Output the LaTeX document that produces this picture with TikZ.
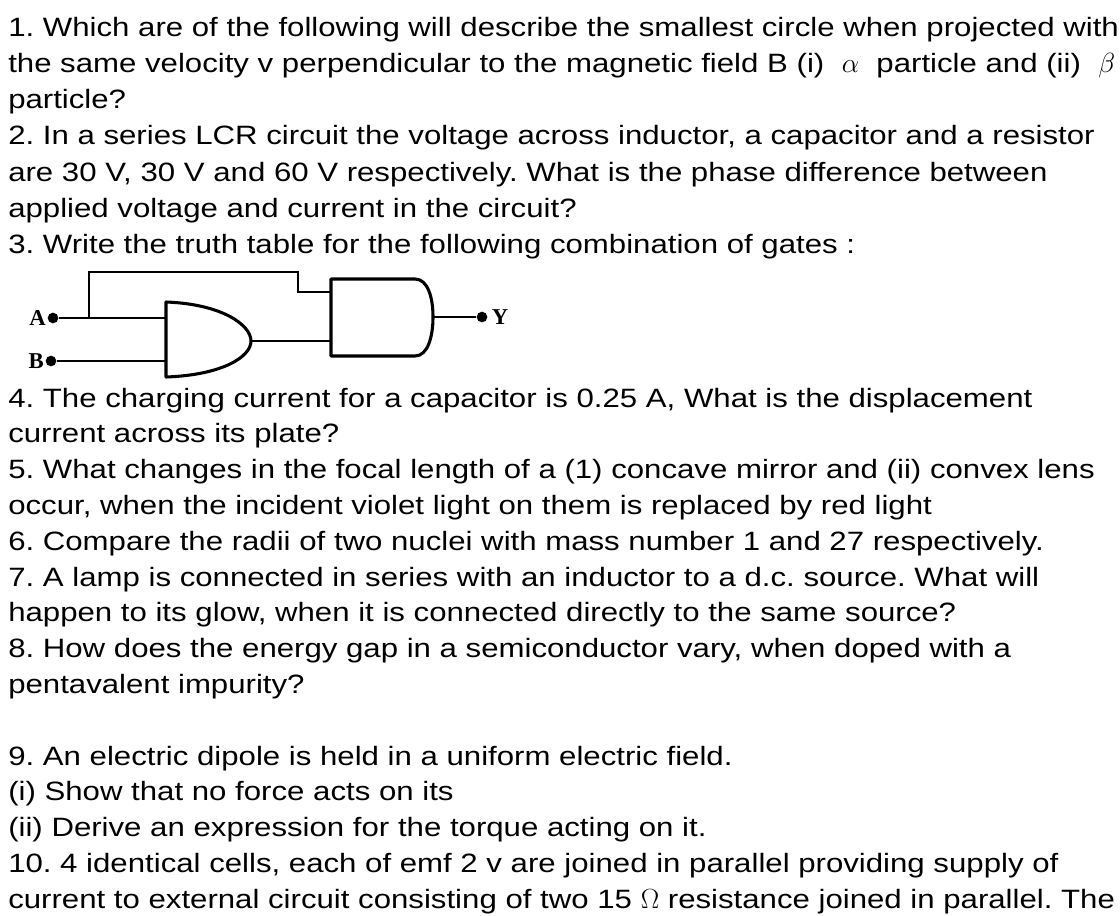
\documentclass[tikz,border=0pt]{standalone}
\usepackage{fontspec}
\setmainfont{Liberation Sans}[FakeStretch=1.175]
\newfontfamily\pinfont{Liberation Serif}
\usetikzlibrary{positioning}
\frenchspacing

\begin{document}
\begin{tikzpicture}[x=0.75pt,y=-0.75pt]
            \tikzset{
	qline/.style={anchor=base west, inner sep=0pt, font=\fontsize{19.9}{24}\selectfont},
	gate/.style={draw, line width=2.3pt, line join=round},
	wire/.style={draw, line width=1.9pt},
	pin/.style={circle, fill, inner sep=0pt, minimum size=8pt},
	pinlabel/.style={font=\pinfont\bfseries\fontsize{17}{17}\selectfont, inner sep=0pt}
}

\useasboundingbox (0,0) rectangle (1120,915);

% questions 1 to 3
\foreach \txt [count=\i from 0] in {
	1. Which are of the following will describe the smallest circle when projected with,
	the same velocity v perpendicular to the magnetic field B (i) ~$\alpha$~ particle and (ii) ~$\beta$,
	particle?,
	{2. In a series LCR circuit the voltage across inductor, a capacitor and a resistor},
	{are 30 V, 30 V and 60 V respectively. What is the phase difference between},
	applied voltage and current in the circuit?,
	3. Write the truth table for the following combination of gates :}
	\node[qline] (top\i) at (8,36+36.3*\i) {\txt};

% gates
\coordinate (and1nw) at (166,302);
\coordinate (and1tip) at (251,341);
\coordinate (and1sw) at (166,377);
\coordinate (and2nw) at (331,279);
\coordinate (and2tip) at (433,317);
\coordinate (and2sw) at (331,356);

\draw[gate] (and1nw) .. controls (222,304) and (251,325) .. (and1tip)
	.. controls (251,357) and (222,375) .. (and1sw) -- cycle;
\draw[gate] (and2nw) -- (415,279) .. controls (428,279) and (433,298) .. (and2tip)
	.. controls (433,336) and (428,356) .. (415,356) -- (and2sw) -- cycle;

\node[pin] (a) at (53,318) {};
\node[pin] (b) at (51,361) {};
\node[pin] (y) at (482,317) {};
\node[pinlabel, left=1pt of a] (alabel) {A};
\node[pinlabel, left=1pt of b] (blabel) {B};
\node[pinlabel, right=3pt of y] (ylabel) {Y};

\coordinate (branch) at (89,318);
\coordinate (in1a) at (166,318);
\coordinate (in1b) at (166,361);
\coordinate (in2a) at (331,292);
\coordinate (in2b) at (331,341);

\draw[wire] (a) -- (in1a);
\draw[wire] (b) -- (in1b);
\draw[wire] (branch) -- (89,272) -- (298,272) -- (298,292) -- (in2a);
\draw[wire] (and1tip) -- (in2b);
\draw[wire] (and2tip) -- (y);

% questions 4 to 8
\foreach \txt [count=\i from 0] in {
	{4. The charging current for a capacitor is 0.25 A, What is the displacement},
	current across its plate?,
	5. What changes in the focal length of a (1) concave mirror and (ii) convex lens,
	{occur, when the incident violet light on them is replaced by red light},
	6. Compare the radii of two nuclei with mass number 1 and 27 respectively.,
	7. A lamp is connected in series with an inductor to a d.c. source. What will,
	{happen to its glow, when it is connected directly to the same source?},
	{8. How does the energy gap in a semiconductor vary, when doped with a},
	pentavalent impurity?}
	\node[qline] (mid\i) at (8,407+35.8*\i) {\txt};

% questions 9 and 10
\foreach \txt [count=\i from 0] in {
	9. An electric dipole is held in a uniform electric field.,
	(i) Show that no force acts on its,
	(ii) Derive an expression for the torque acting on it.,
	{10. 4 identical cells, each of emf 2 v are joined in parallel providing supply of},
	current to external circuit consisting of two 15 $\Omega$ resistance joined in parallel. The}
	\node[qline] (low\i) at (8,765+35.8*\i) {\txt};
        \end{tikzpicture}
\end{document}
